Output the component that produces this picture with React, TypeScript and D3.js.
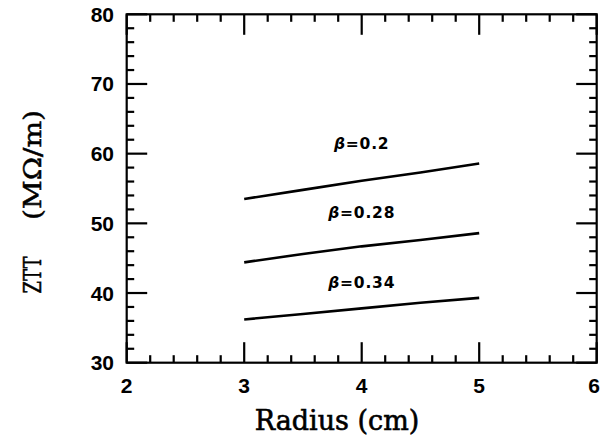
import React from "react";
import * as d3 from "d3";

const radius = [3, 3.5, 4, 4.5, 5];
const zttBeta020 = [53.5, 54.8, 56.1, 57.3, 58.6];
const zttBeta028 = [44.4, 45.6, 46.7, 47.6, 48.6];
const zttBeta034 = [36.2, 37.0, 37.8, 38.6, 39.3];
const seriesLabels = ["β=0.2", "β=0.28", "β=0.34"];
const labelPos = [61.5, 51.5, 41.5];
const labelX = 4;
const xTicks = [2, 3, 4, 5, 6];
const yTicks = [30, 40, 50, 60, 70, 80];
const xMinor = d3.range(2, 6.0001, 0.2);
const yMinor = d3.range(30, 80.0001, 2);

const W = 601, H = 443;
const L = 126.7, R = 596.7, T = 14.3, B = 362.7;

export default function App() {
  const x = d3.scaleLinear().domain([2, 6]).range([L, R]);
  const y = d3.scaleLinear().domain([30, 80]).range([B, T]);
  const series = [zttBeta020, zttBeta028, zttBeta034];
  const line = d3.line<number>().x((_, i) => x(radius[i])).y((d) => y(d));
  const majorLen = 20.5, minorLen = 7.5;
  const isMajorX = (v: number) => Math.abs(v - Math.round(v)) < 1e-6;
  const isMajorY = (v: number) => Math.abs(v / 10 - Math.round(v / 10)) < 1e-6;
  return (
    <svg width={W} height={H} style={{ position: "absolute", left: 0, top: 0 }}>
      <rect x={0} y={0} width={W} height={H} fill="#fff" />
      <g stroke="#000" strokeWidth={2.2} fill="none">
        <rect x={L} y={T} width={R - L} height={B - T} />
        {xMinor.map((v, i) => {
          const len = isMajorX(v) ? majorLen : minorLen;
          return (
            <g key={"xt" + i}>
              <line x1={x(v)} x2={x(v)} y1={B} y2={B - len} />
              <line x1={x(v)} x2={x(v)} y1={T} y2={T + len} />
            </g>
          );
        })}
        {yMinor.map((v, i) => {
          const len = isMajorY(v) ? majorLen : minorLen;
          return (
            <g key={"yt" + i}>
              <line x1={L} x2={L + len} y1={y(v)} y2={y(v)} />
              <line x1={R} x2={R - len} y1={y(v)} y2={y(v)} />
            </g>
          );
        })}
      </g>
      <g fontFamily="'Liberation Sans', Arial, sans-serif" fontWeight="bold" fontSize={21} fill="#000">
        {xTicks.map((v, i) => {
          const last = i === xTicks.length - 1;
          return (
            <text key={"xl" + v} x={last ? 600 : x(v)} y={393} textAnchor={last ? "end" : "middle"}>{v}</text>
          );
        })}
        {yTicks.map((v) => (
          <text key={"yl" + v} x={114} y={y(v) + 7.5} textAnchor="end">{v}</text>
        ))}
      </g>
      <g stroke="#000" strokeWidth={2.6} fill="none">
        {series.map((s, i) => (
          <path key={"s" + i} d={line(s) || ""} />
        ))}
      </g>
      <g fontFamily="'DejaVu Sans', sans-serif" fontWeight="bold" fontSize={15.5} fill="#000">
        {seriesLabels.map((t, i) => (
          <text key={"lb" + i} x={x(labelX)} y={y(labelPos[i]) + 5.5} textAnchor="middle" letterSpacing={0.8}>
            <tspan fontStyle="italic">β</tspan>{t.slice(1)}
          </text>
        ))}
      </g>
      <text x={337} y={430} textAnchor="middle" fontFamily="'DejaVu Serif', serif" fontSize={27} fill="#000" stroke="#000" strokeWidth={0.6}>
        Radius (cm)
      </text>
      <g transform="translate(41,0) rotate(-90)" fontFamily="'DejaVu Serif', serif" fontSize={24} fill="#000" stroke="#000" strokeWidth={0.5}>
        <text x={-275} y={0} textAnchor="middle" textLength={37} lengthAdjust="spacingAndGlyphs">ZTT</text>
        <text x={-165} y={0} textAnchor="middle" textLength={110} lengthAdjust="spacingAndGlyphs">(MΩ/m)</text>
      </g>
    </svg>
  );
}
